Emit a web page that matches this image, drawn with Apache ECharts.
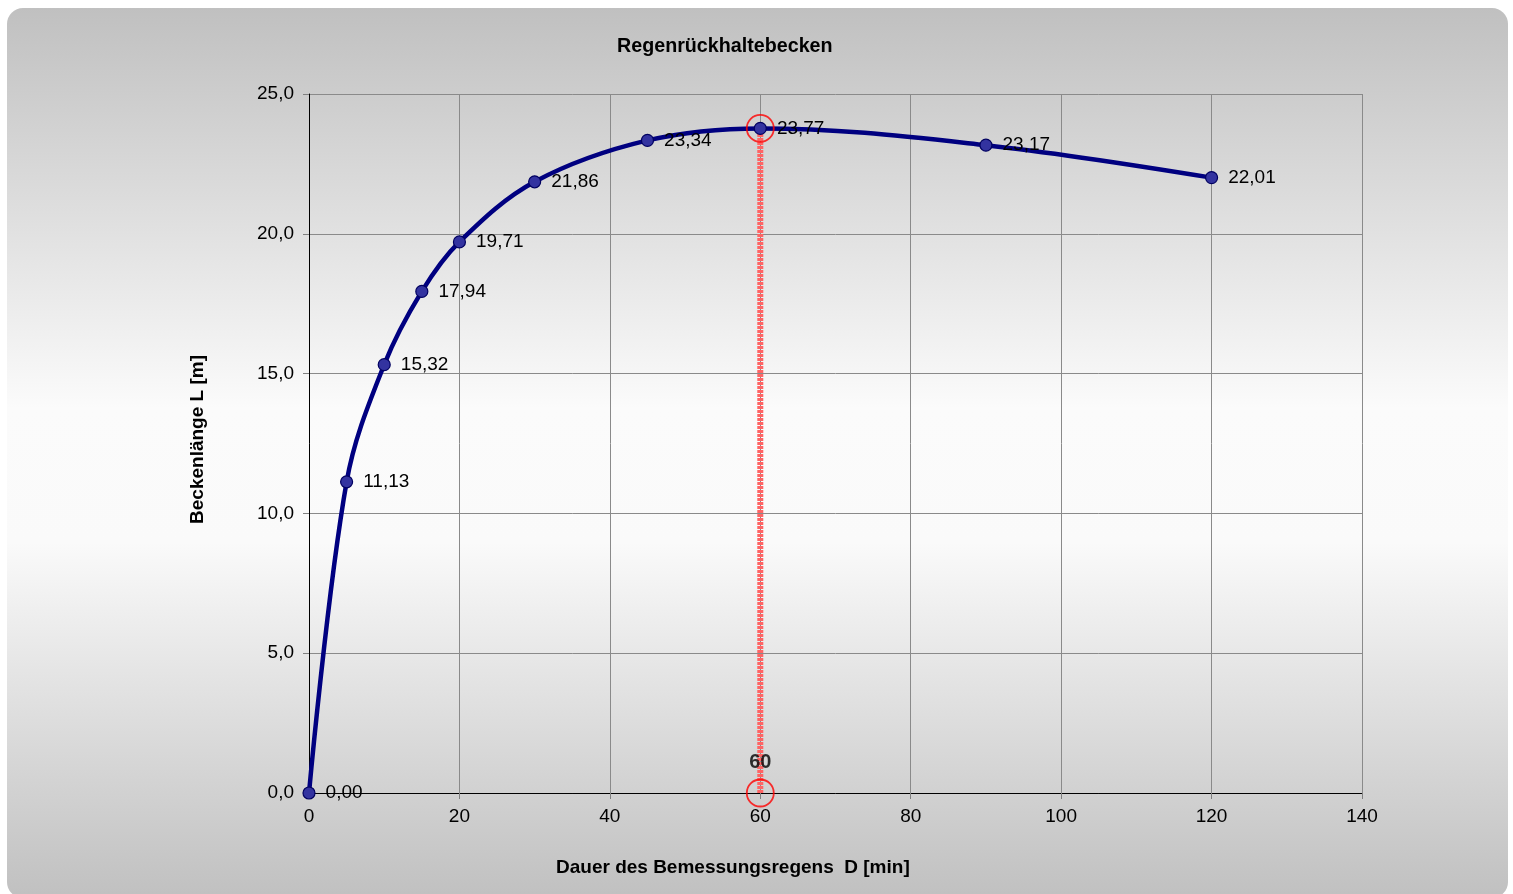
<!DOCTYPE html>
<html>
<head>
    <meta charset="utf-8">
    <title>Regenrückhaltebecken</title>
    <script src="https://cdn.jsdelivr.net/npm/echarts@6/dist/echarts.min.js"></script>
    <style>
        html, body { margin: 0; padding: 0; background: #ffffff; }
        #main { width: 1513px; height: 894px; }
    </style>
</head>
<body>
<div id="main"></div>
<script>
    // Dauer D [min] und Beckenlänge L [m]
    var dauer = [0, 5, 10, 15, 20, 30, 45, 60, 90, 120];
    var laenge = [0.00, 11.13, 15.32, 17.94, 19.71, 21.86, 23.34, 23.77, 23.17, 22.01];
    // massgebende Dauer (Maximum)
    var maxD = 60;
    var maxL = 23.77;

    function komma(v, n) {
        return v.toFixed(n).replace('.', ',');
    }

    var chart = echarts.init(document.getElementById('main'));
    var option = {
        animation: false,
        textStyle: { fontFamily: 'Liberation Sans, Arial, sans-serif' },
        graphic: [{
            type: 'rect',
            z: -10,
            silent: true,
            shape: { x: 7, y: 8, width: 1501, height: 890, r: 16 },
            style: {
                fill: new echarts.graphic.LinearGradient(0, 0, 0, 1, [
                    { offset: 0, color: '#c0c0c0' },
                    { offset: 0.45, color: '#fbfbfb' },
                    { offset: 0.6, color: '#fafafa' },
                    { offset: 1, color: '#c0c0c0' }
                ])
            }
        }, {
            // Achsentitel unten, wie im Original nicht mittig zur Achse
            type: 'text',
            silent: true,
            left: 556,
            top: 858,
            style: {
                text: 'Dauer des Bemessungsregens  D [min]',
                fontSize: 19,
                fontWeight: 'bold',
                fill: '#000',
                fontFamily: 'Liberation Sans, Arial, sans-serif'
            }
        }],
        title: {
            text: 'Regenrückhaltebecken',
            left: 612,
            top: 32,
            textStyle: { fontSize: 19.7, fontWeight: 'bold', color: '#000' }
        },
        grid: { left: 309, right: 151, top: 94, bottom: 101 },
        xAxis: {
            type: 'value',
            min: 0, max: 140, interval: 20,
            axisLine: { show: true, onZero: false, lineStyle: { color: '#000', width: 1 } },
            axisTick: { show: true, length: 6, lineStyle: { color: '#808080' } },
            axisLabel: { fontSize: 19, color: '#000', margin: 14 },
            splitLine: { show: true, lineStyle: { color: '#8a8a8a', width: 1 } }
        },
        yAxis: {
            type: 'value',
            min: 0, max: 25, interval: 5,
            name: 'Beckenlänge L [m]',
            nameLocation: 'middle',
            nameGap: 102,
            nameTextStyle: { fontSize: 19, fontWeight: 'bold', color: '#000', padding: [0, 0, 0, 8] },
            axisLine: { show: true, lineStyle: { color: '#000', width: 1 } },
            axisTick: { show: true, length: 6, lineStyle: { color: '#808080' } },
            axisLabel: {
                fontSize: 19, color: '#000', margin: 15,
                formatter: function (v) { return komma(v, 1); }
            },
            splitLine: { show: true, lineStyle: { color: '#8a8a8a', width: 1 } }
        },
        series: [
            {
                name: 'Maximum',
                type: 'line',
                z: 1,
                data: [[maxD, 0], [maxD, maxL]],
                symbol: 'none',
                lineStyle: { color: '#ff6464', width: 6, type: [3, 1] },
                silent: true
            },
            {
                name: 'Beckenlänge',
                type: 'line',
                z: 3,
                smooth: 0.35,
                data: dauer.map(function (d, i) { return [d, laenge[i]]; }),
                symbol: 'circle',
                symbolSize: 12,
                itemStyle: { color: '#3333a0', borderColor: '#000060', borderWidth: 1.2 },
                lineStyle: { color: '#000080', width: 4.5 },
                label: {
                    show: true,
                    position: 'right',
                    distance: 10,
                    fontSize: 19,
                    color: '#000',
                    formatter: function (p) { return komma(p.value[1], 2); }
                }
            },
            {
                name: 'Markierung',
                type: 'scatter',
                z: 4,
                data: [[maxD, maxL], [maxD, 0]],
                symbol: 'circle',
                symbolSize: 27,
                itemStyle: { color: 'rgba(0,0,0,0)', borderColor: '#ff0000', borderWidth: 1.8 },
                label: {
                    show: true,
                    position: 'top',
                    distance: 6,
                    fontSize: 20,
                    fontWeight: 'bold',
                    color: '#000',
                    formatter: function (p) { return p.value[1] === 0 ? String(maxD) : ''; }
                },
                silent: true
            }
        ]
    };
    chart.setOption(option);
</script>
</body>
</html>
